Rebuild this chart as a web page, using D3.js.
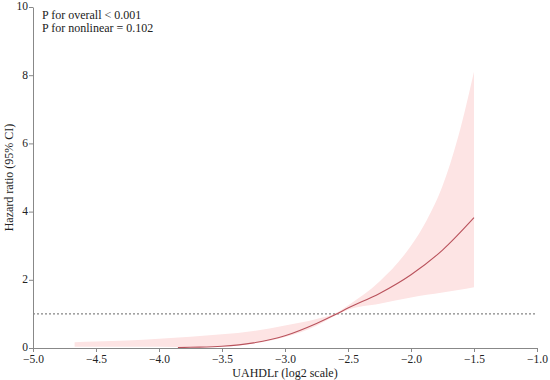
<!DOCTYPE html>
<html><head><meta charset="utf-8">
<script src="https://cdn.jsdelivr.net/npm/d3@7"></script>
<style>body{margin:0;background:#fff}svg{display:block}svg text{font-family:"Liberation Serif","Times New Roman","DejaVu Serif",serif}</style>
</head><body><svg id="c" width="550" height="380"></svg>
<script>
const xTicks = [-5.0, -4.5, -4.0, -3.5, -3.0, -2.5, -2.0, -1.5, -1.0];
const yTicks = [0, 2, 4, 6, 8, 10];
const hrX   = [-3.85, -3.75, -3.5, -3.25, -3.0, -2.75, -2.6, -2.5, -2.25, -2.0, -1.75, -1.5];
const hrY   = [0.01, 0.02, 0.05, 0.15, 0.36, 0.72, 0.98, 1.17, 1.6, 2.15, 2.87, 3.82];
const ciX     = [-4.67, -4.5, -4.25, -4.0, -3.75, -3.5, -3.25, -3.0, -2.75, -2.6, -2.5, -2.25, -2.0, -1.875, -1.75, -1.625, -1.5];
const ciUpper = [0.17, 0.19, 0.22, 0.27, 0.33, 0.40, 0.50, 0.66, 0.85, 1.02, 1.25, 1.95, 3.0, 3.75, 4.75, 6.2, 8.1];
const ciLower = [0.04, 0.04, 0.04, 0.04, 0.03, 0.05, 0.13, 0.32, 0.65, 0.95, 1.12, 1.3, 1.48, 1.56, 1.63, 1.7, 1.78];
const refHR = 1;
const notes = ["P for overall < 0.001", "P for nonlinear = 0.102"];

const svg = d3.select("#c");
const x = d3.scaleLinear().domain([-5, -1]).range([33, 537]);
const y = d3.scaleLinear().domain([0, 10]).range([348, 7]);

// CI band
const band = ciX.map((v, i) => ({x: v, lo: ciLower[i], hi: ciUpper[i]}));
svg.append("path").datum(band)
  .attr("fill", "#fde4e4")
  .attr("d", d3.area().x(d => x(d.x)).y0(d => y(d.lo)).y1(d => y(d.hi)).curve(d3.curveMonotoneX));

// reference line
svg.append("line")
  .attr("x1", x(-5)).attr("x2", x(-1))
  .attr("y1", y(refHR)).attr("y2", y(refHR))
  .attr("stroke", "#666").attr("stroke-width", 1).attr("stroke-dasharray", "2,2");

// HR line
const line = hrX.map((v, i) => ({x: v, y: hrY[i]}));
svg.append("path").datum(line)
  .attr("fill", "none").attr("stroke", "#b9525c").attr("stroke-width", 1.1)
  .attr("d", d3.line().x(d => x(d.x)).y(d => y(d.y)).curve(d3.curveMonotoneX));

// axes
const xAxis = svg.append("g").attr("transform", `translate(0,${y(0)})`)
  .call(d3.axisBottom(x).tickValues(xTicks).tickSize(4).tickSizeOuter(0)
    .tickFormat(d => d3.format(".1f")(d).replace("-", "\u2212")));
const yAxis = svg.append("g").attr("transform", `translate(${x(-5)},0)`)
  .call(d3.axisLeft(y).tickValues(yTicks).tickSize(4).tickSizeOuter(0).tickFormat(d3.format("d")));
[xAxis, yAxis].forEach(g => {
  g.attr("font-family", null);
  g.selectAll("path").attr("stroke", "#888");
  g.selectAll("line").attr("stroke", "#888");
  g.selectAll("text").attr("font-size", 11.5).attr("fill", "#222");
});
xAxis.selectAll("text").attr("y", 7).attr("dy", "0.71em");
yAxis.selectAll("text").attr("x", -5).attr("dy", "0.25em");

// axis titles
svg.append("text").attr("x", x(-3)).attr("y", 377).attr("text-anchor", "middle")
  .attr("font-size", 12).attr("fill", "#222").text("UAHDLr (log2 scale)");
svg.append("text").attr("transform", `translate(13,${y(5)}) rotate(-90)`).attr("text-anchor", "middle")
  .attr("font-size", 12).attr("fill", "#222").text("Hazard ratio (95% CI)");

// annotations
notes.forEach((t, i) => {
  svg.append("text").attr("x", 42).attr("y", 19 + i * 13)
    .attr("font-size", 12).attr("fill", "#222").text(t);
});
</script></body></html>
